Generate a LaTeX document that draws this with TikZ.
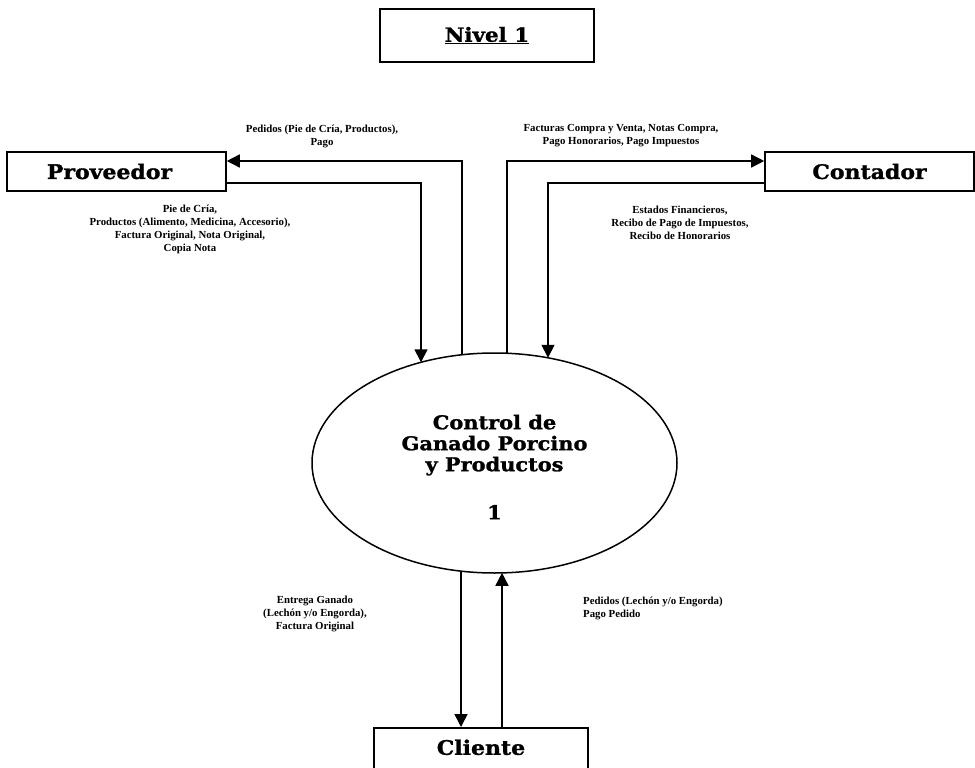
\documentclass[tikz,border=0pt]{standalone}
\usepackage{fontspec}
\setmainfont{Liberation Serif}
\newfontfamily\heavy{DejaVu Serif}[FakeStretch=1.1, BoldFeatures={FakeBold=1.3}]
\usetikzlibrary{arrows.meta,calc,shapes.geometric}

\tikzset{
  entity/.style={draw, line width=1.6pt, rectangle, inner sep=0pt,
    font=\heavy\bfseries\fontsize{20}{24}\selectfont},
  flow/.style={draw, line width=1.5pt, -{Triangle[length=13pt,width=13pt]}},
  lbl/.style={font=\bfseries\fontsize{10.8}{13}\selectfont, align=center, inner sep=0pt},
}

\begin{document}
\begin{tikzpicture}[x=1pt,y=-1pt]
  \clip (0,0) rectangle (975,768);
  \fill[white] (0,0) rectangle (975,768);

  % title
  \node[draw, line width=2.6pt, minimum width=214pt, minimum height=53pt,
        font=\heavy\bfseries\fontsize{19.5}{22}\selectfont] (title) at (487,35.5)
        {\underline{Nivel 1}};

  % external entities
  \node[entity, minimum width=219pt, minimum height=39pt] (prov) at (116.5,171.5)
        {\hspace*{-14pt}Proveedor};
  \node[entity, minimum width=209pt, minimum height=39pt] (cont) at (869.5,171.5) {Contador};
  \node[entity, anchor=north, minimum width=214pt, text height=21pt, text depth=40pt,
        inner ysep=6pt] (cli) at (481,727) {Cliente};

  % process bubble and its caption
  \node[draw, line width=1.5pt, ellipse, minimum width=365pt, minimum height=220pt,
        inner sep=0pt] (proc) at (494.5,463) {};
  \node[inner sep=0pt, align=center, font=\heavy\bfseries\fontsize{19}{21}\selectfont]
        (proctext) at ($(proc.center)+(0,4)$)
        {Control de\\Ganado Porcino\\y Productos\\[27pt]1};

  % points on the process border
  \coordinate (pt1) at ($(proc.center)+(-73.5,-100.7)$);
  \coordinate (pt2) at ($(proc.center)+(-32.5,-108.2)$);
  \coordinate (pt3) at ($(proc.center)+(12.5,-109.7)$);
  \coordinate (pt4) at ($(proc.center)+(53.5,-105.2)$);
  \coordinate (pb1) at ($(proc.center)+(-33.5,108.1)$);
  \coordinate (pb2) at ($(proc.center)+(7.5,109.8)$);

  % flows
  \draw[flow] (pt2) |- ([yshift=10.5pt]prov.east);
  \draw[flow] ([yshift=-11.5pt]prov.east) -| (pt1);
  \draw[flow] (pt3) |- ([yshift=10.5pt]cont.west);
  \draw[flow] ([yshift=-11.5pt]cont.west) -| (pt4);
  \draw[flow] (pb1) -- (pb1 |- cli.north);
  \draw[flow] (pb2 |- cli.north) -- (pb2);

  % flow labels
  \node[lbl] (l1) at (322,136) {Pedidos (Pie de Cría, Productos),\\Pago};
  \node[lbl] (l2) at (621,136) {Facturas Compra y Venta, Notas Compra,\\Pago Honorarios, Pago Impuestos};
  \node[lbl] (l3) at (190,229) {Pie de Cría,\\Productos (Alimento, Medicina, Accesorio),\\Factura Original, Nota Original,\\Copia Nota};
  \node[lbl] (l4) at (680,223) {Estados Financieros,\\Recibo de Pago de Impuestos,\\Recibo de Honorarios};
  \node[lbl] (l5) at (315,614) {Entrega Ganado\\(Lechón y/o Engorda),\\Factura Original};
  \node[lbl, anchor=west, align=left] (l6) at (583,608) {Pedidos (Lechón y/o Engorda)\\Pago Pedido};
\end{tikzpicture}
\end{document}
